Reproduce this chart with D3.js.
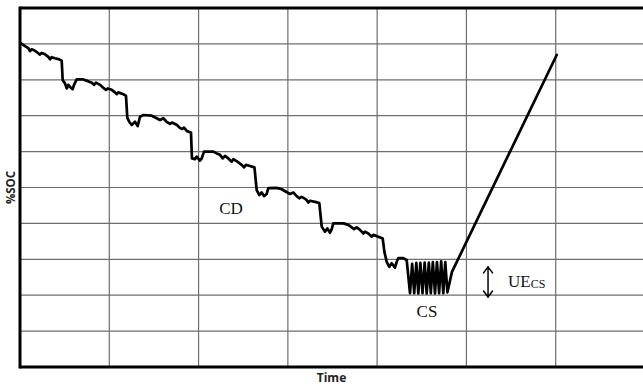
<!DOCTYPE html>
<html>
<head>
<meta charset="utf-8">
<script src="https://cdn.jsdelivr.net/npm/d3@7/dist/d3.min.js"></script>
<style>
  html, body { margin: 0; padding: 0; background: #fff; }
  svg { display: block; }
</style>
</head>
<body>
<svg id="chart" width="643" height="387"></svg>
<script>
// Time axis (minutes) and state of charge (%) for a plug-in hybrid drive:
// charge-depleting (CD) steps, then charge-sustaining (CS) oscillation, then recharge.
const timeValues = [
  0.8, 5.6, 9.3, 11.2, 13.1, 16.8, 20.5, 22.4, 24.3, 28.0, 31.7, 33.6, 35.5, 39.2, 44.0, 46.7,
  47.8, 50.4, 52.3, 54.1, 56.8, 59.0, 60.5, 63.5, 70.9, 75.4, 80.3, 82.9, 85.1, 89.6, 94.1, 96.3,
  98.2, 102.7, 106.4, 108.3, 110.1, 115.7, 118.7,
  120.2, 122.6, 125.1, 128.8, 131.8, 134.4, 138.1, 147.5, 153.1, 156.8, 160.5, 164.3, 168.0, 170.2,
  175.8, 179.2, 181.4, 183.7, 187.0, 191.5,
  192.6, 196.0, 197.9, 201.6, 203.5, 206.1, 216.5, 220.3, 224.0, 227.0, 229.6, 233.3, 237.1, 238.9,
  243.4, 248.3, 250.9, 253.1, 257.6, 262.6,
  265.1, 268.0, 270.7, 273.3, 276.3, 278.1, 287.5, 293.1, 299.4, 302.4, 306.1, 309.9, 312.8, 315.5,
  320.3, 322.9, 324.8, 330.4, 335.2,
  337.9, 341.6, 344.2, 347.2, 349.1, 350.9, 362.1, 367.7, 371.5, 374.1, 377.1, 380.8, 384.5, 386.4,
  390.1, 393.9, 395.7, 401.3, 406.2,
  408.2, 410.7, 413.6, 416.3, 420.0, 421.9, 423.7, 429.3, 433.1,
  436.8, 439.2, 441.5, 443.9, 446.1, 448.4, 450.8, 453.2, 455.5, 457.9, 460.1, 462.4, 464.8, 467.0,
  469.4, 471.7, 474.1, 476.3, 478.7,
  483.8, 601.1
];
const socValues = [
  90.2, 89.4, 88.8, 88.0, 88.5, 88.1, 87.4, 87.0, 87.5, 87.1, 86.4, 85.7, 86.3, 86.0, 85.7, 85.3,
  79.9, 79.0, 77.6, 78.6, 77.8, 77.4, 78.6, 80.1, 80.1, 79.7, 79.2, 78.6, 79.2, 78.6, 77.6, 77.2,
  77.6, 77.2, 76.5, 76.0, 76.5, 76.0, 75.5,
  69.4, 68.2, 67.4, 68.3, 67.1, 69.7, 70.2, 70.0, 69.3, 68.8, 69.3, 68.3, 67.7, 68.1,
  67.4, 66.6, 66.3, 66.7, 65.7, 65.3,
  58.1, 57.9, 58.6, 57.5, 58.1, 60.0, 60.0, 59.5, 59.1, 58.1, 58.8, 58.1, 57.2, 57.9,
  57.2, 56.3, 55.6, 56.3, 56.0, 55.6,
  49.3, 47.9, 48.6, 47.6, 48.2, 49.8, 49.9, 49.5, 48.6, 48.2, 48.6, 47.6, 47.0, 47.4,
  46.7, 45.8, 46.3, 46.0, 45.7,
  39.1, 37.7, 38.6, 37.4, 38.4, 40.0, 40.0, 39.6, 38.9, 38.4, 38.9, 38.2, 37.2, 37.7,
  37.2, 36.3, 36.8, 36.3, 35.8,
  32.0, 29.3, 27.9, 28.9, 27.7, 29.3, 30.3, 30.3, 29.8,
  20.6, 28.7, 20.6, 29.0, 20.5, 29.0, 20.6, 29.1, 20.5, 29.1, 20.6, 29.2, 20.5, 29.2,
  20.6, 29.4, 20.6, 29.2, 20.8,
  26.5, 86.9
];

// Grid divisions
const timeGrid = [0, 100, 200, 300, 400, 500, 600, 700];
const socGrid = [0, 10, 20, 30, 40, 50, 60, 70, 80, 90, 100];

// Annotations
const phaseLabels = [
  { text: "CD", t: 236.3, soc: 42.6 },
  { text: "CS", t: 455.8, soc: 13.9 }
];
const bandLabel = { main: "UE", sub: "CS", t: 546.6, soc: 22.3 };
const bandArrow = { t: 524.2, socLow: 19.5, socHigh: 27.9 };

const width = 643, height = 387;
const margin = { top: 8, left: 20 };
const plotW = 625, plotH = 359;

const svg = d3.select("#chart");

const x = d3.scaleLinear().domain([0, 700]).range([margin.left, margin.left + plotW]);
const y = d3.scaleLinear().domain([0, 100]).range([margin.top + plotH, margin.top]);

// Grid
const grid = svg.append("g").attr("stroke", "#6e6e6e").attr("stroke-width", 1.2);
grid.selectAll("line.v").data(timeGrid.slice(1)).join("line")
  .attr("class", "v")
  .attr("x1", d => x(d)).attr("x2", d => x(d))
  .attr("y1", y(100)).attr("y2", y(0));
grid.selectAll("line.h").data(socGrid.slice(1, -1)).join("line")
  .attr("class", "h")
  .attr("x1", x(0)).attr("x2", x(700))
  .attr("y1", d => y(d)).attr("y2", d => y(d));

// Frame: top, left and bottom edges
const frame = svg.append("g").attr("stroke", "#000").attr("stroke-width", 3).attr("fill", "none");
frame.append("line").attr("x1", x(0)).attr("x2", x(700)).attr("y1", y(100)).attr("y2", y(100));
frame.append("line").attr("x1", x(0)).attr("x2", x(0)).attr("y1", y(100) - 1.5).attr("y2", y(0) + 1.5);
frame.append("line").attr("x1", x(0)).attr("x2", x(700)).attr("y1", y(0)).attr("y2", y(0));

// SOC trace
const series = timeValues.map((t, i) => ({ t, soc: socValues[i] }));
const line = d3.line().x(d => x(d.t)).y(d => y(d.soc));
svg.append("path")
  .datum(series)
  .attr("d", line)
  .attr("fill", "none")
  .attr("stroke", "#000")
  .attr("stroke-width", 2.7)
  .attr("stroke-linejoin", "round")
  .attr("stroke-linecap", "round");

// Phase labels
svg.selectAll("text.phase").data(phaseLabels).join("text")
  .attr("class", "phase")
  .attr("x", d => x(d.t)).attr("y", d => y(d.soc))
  .attr("text-anchor", "middle")
  .attr("font-family", "'Liberation Serif', 'Times New Roman', serif")
  .attr("font-size", 17)
  .attr("fill", "#111")
  .text(d => d.text);

// Usable energy band arrow
const ax = x(bandArrow.t), ay1 = y(bandArrow.socHigh), ay2 = y(bandArrow.socLow);
const arrow = svg.append("g").attr("stroke", "#000").attr("stroke-width", 1.5).attr("fill", "none")
  .attr("stroke-linecap", "round").attr("stroke-linejoin", "round");
arrow.append("line").attr("x1", ax).attr("x2", ax).attr("y1", ay1).attr("y2", ay2);
arrow.append("path").attr("d", `M${ax - 4.5},${ay1 + 6}L${ax},${ay1}L${ax + 4.5},${ay1 + 6}`);
arrow.append("path").attr("d", `M${ax - 4.5},${ay2 - 6}L${ax},${ay2}L${ax + 4.5},${ay2 - 6}`);

const ue = svg.append("text")
  .attr("x", x(bandLabel.t)).attr("y", y(bandLabel.soc))
  .attr("font-family", "'Liberation Serif', 'Times New Roman', serif")
  .attr("fill", "#111");
ue.append("tspan").attr("font-size", 17).text(bandLabel.main);
ue.append("tspan").attr("font-size", 12).attr("dy", 1.5).text(bandLabel.sub);

// Axis titles
svg.append("text")
  .attr("transform", `translate(15,${y(50)}) rotate(-90)`)
  .attr("text-anchor", "middle")
  .attr("font-family", "'Open Sans', sans-serif")
  .attr("font-weight", 700)
  .attr("font-size", 11.5)
  .attr("fill", "#222")
  .text("%SOC");

svg.append("text")
  .attr("x", 331.5).attr("y", 382)
  .attr("text-anchor", "middle")
  .attr("font-family", "'Open Sans', sans-serif")
  .attr("font-weight", 700)
  .attr("font-size", 12)
  .attr("fill", "#222")
  .text("Time");
</script>
</body>
</html>
